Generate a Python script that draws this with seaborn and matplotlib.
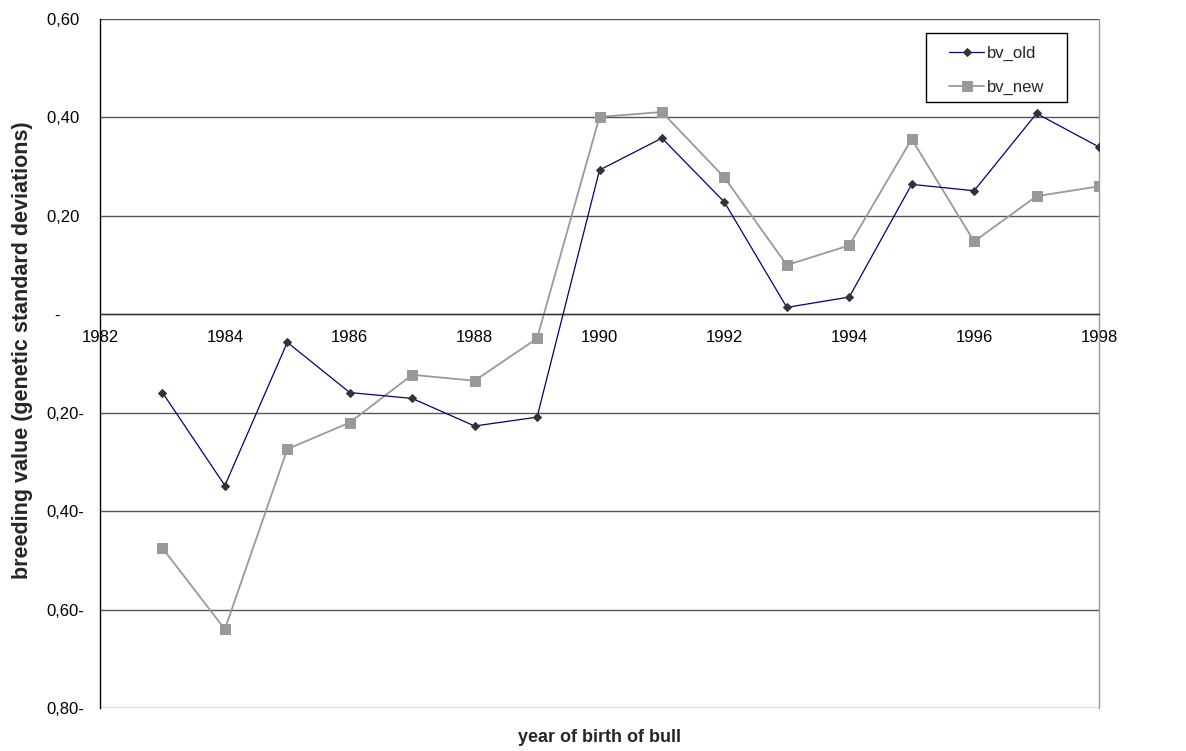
import numpy as np
import pandas as pd
import matplotlib
matplotlib.use('Agg')
import matplotlib.pyplot as plt
from matplotlib.patches import Rectangle
import seaborn as sns

# values
years = [1983, 1984, 1985, 1986, 1987, 1988, 1989, 1990,
         1991, 1992, 1993, 1994, 1995, 1996, 1997, 1998]
bv_old = [-0.159, -0.348, -0.057, -0.159, -0.171, -0.227, -0.209, 0.293,
          0.358, 0.228, 0.014, 0.035, 0.264, 0.251, 0.408, 0.340]
bv_new = [-0.475, -0.640, -0.274, -0.220, -0.123, -0.135, -0.049, 0.401,
          0.411, 0.278, 0.100, 0.140, 0.356, 0.148, 0.240, 0.260]

x_ticks = [1982, 1984, 1986, 1988, 1990, 1992, 1994, 1996, 1998]
y_ticks = [-0.8, -0.6, -0.4, -0.2, 0.0, 0.2, 0.4, 0.6]
# Excel accounting style: negatives get a trailing minus, zero is a dash
y_ticklabels = ['0,80-', '0,60-', '0,40-', '0,20-', '-     ', '0,20 ', '0,40 ', '0,60 ']

sns.set_style('white')
plt.rcParams['font.family'] = ['Liberation Sans', 'DejaVu Sans']

df = pd.DataFrame({'year': years, 'bv_old': bv_old, 'bv_new': bv_new})

fig = plt.figure(figsize=(11.86, 7.51), dpi=100)
ax = fig.add_axes([100 / 1186, 1 - 708 / 751, 999 / 1186, 689 / 751])

# horizontal grid lines
for v in y_ticks:
    ax.axhline(v, color='#555555', lw=1, zorder=0)

sns.lineplot(data=df, x='year', y='bv_old', ax=ax, color='#000080', lw=0.9,
             marker='D', markersize=4.5, markerfacecolor='#333333',
             markeredgecolor='#333333', label='bv_old', zorder=3)
sns.lineplot(data=df, x='year', y='bv_new', ax=ax, color='#999999', lw=1.3,
             marker='s', markersize=7.5, markerfacecolor='#999999',
             markeredgecolor='#999999', label='bv_new', zorder=2)

ax.set_xlim(1982, 1998)
ax.set_ylim(-0.8, 0.6)

ax.spines['top'].set_visible(False)
ax.spines['right'].set_color('#999999')
ax.spines['left'].set_color('black')
ax.spines['bottom'].set_position(('data', 0))
ax.spines['bottom'].set_color('#333333')
for s in ax.spines.values():
    s.set_linewidth(1)

ax.set_xticks(x_ticks)
ax.set_xticklabels([str(y) for y in x_ticks])
ax.set_yticks(y_ticks)
ax.set_yticklabels(y_ticklabels)
ax.tick_params(axis='both', direction='out', length=5, width=1,
               color='black', labelsize=12, labelcolor='black')
ax.tick_params(axis='x', pad=6)
ax.tick_params(axis='y', pad=6.5)

ax.set_xlabel('')
ax.set_ylabel('breeding value (genetic standard deviations)',
              fontsize=15.5, fontweight='bold')
ax.yaxis.set_label_coords((33 - 100) / 999, 0.5 + 13 / 689)
fig.text(ax.get_position().x0 + ax.get_position().width / 2, 1 - 738 / 751,
         'year of birth of bull', ha='center', va='center',
         fontsize=13, fontweight='bold')

# legend box drawn separately so the inner padding matches the original
box = Rectangle(((926 - 100) / 999, 1 - (102 - 19) / 689), 141 / 999, 69 / 689,
                transform=ax.transAxes, facecolor='white', edgecolor='black',
                lw=1, zorder=4)
ax.add_patch(box)
leg = ax.legend(loc='upper left', bbox_to_anchor=((949 - 100) / 999, 1 - (46 - 19) / 689),
                borderaxespad=0, borderpad=0, frameon=False, fontsize=12,
                handlelength=2.1, handletextpad=0.2, labelspacing=1.1)
leg.set_zorder(5)

fig.savefig('out.png', dpi=100, facecolor='white')
